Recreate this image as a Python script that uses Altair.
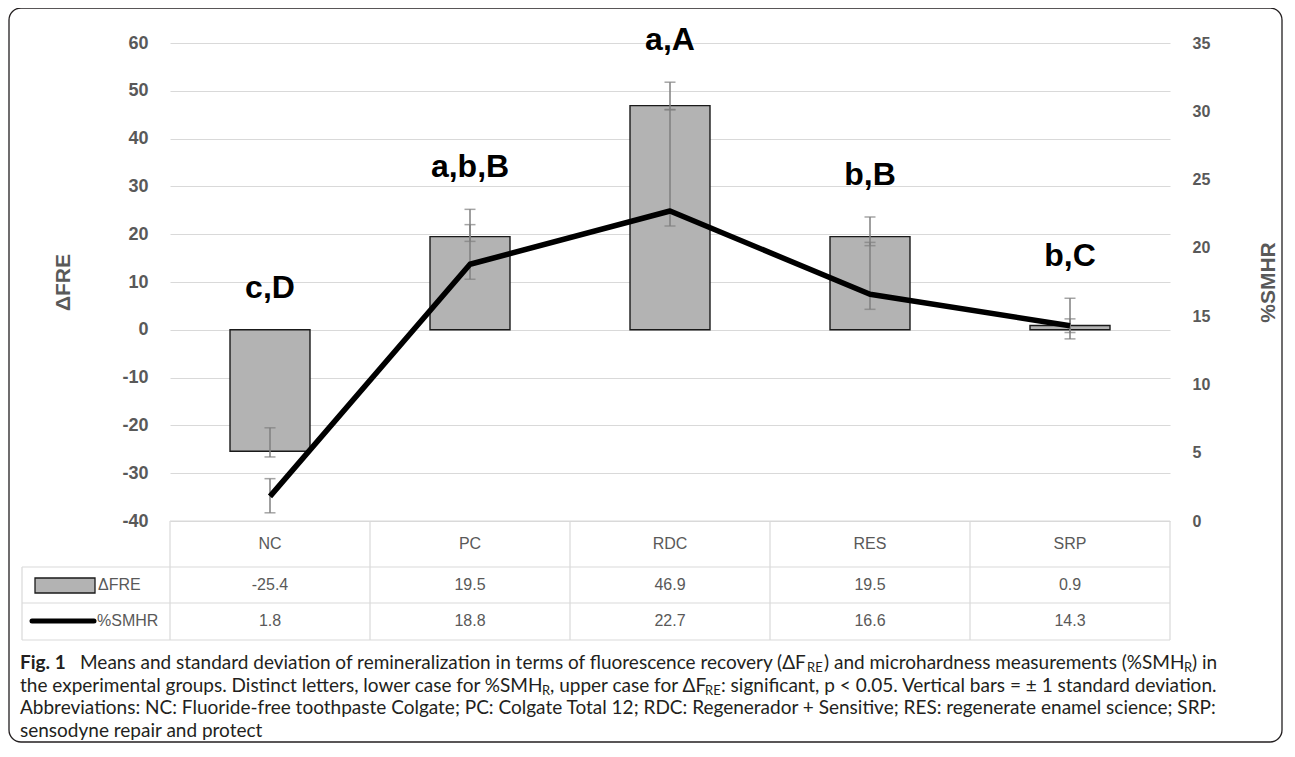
import altair as alt
import pandas as pd

# ---- data ----
groups = ["NC", "PC", "RDC", "RES", "SRP"]
dfre = [-25.4, 19.5, 46.9, 19.5, 0.9]
smhr = [1.8, 18.8, 22.7, 16.6, 14.3]
dfre_lo = [-26.6, 18.5, 46.1, 17.6, -1.9]
dfre_hi = [-20.5, 25.2, 51.8, 23.6, 6.6]
smhr_lo = [0.6, 17.7, 21.6, 15.5, 13.8]
smhr_hi = [3.1, 21.7, 30.1, 20.4, 14.8]
letters = ["c,D", "a,b,B", "a,A", "b,B", "b,C"]

left_ticks = [-40, -30, -20, -10, 0, 10, 20, 30, 40, 50, 60]
right_ticks = [0, 5, 10, 15, 20, 25, 30, 35]

df = pd.DataFrame({
    "group": groups, "dfre": dfre, "smhr": smhr,
    "dfre_lo": dfre_lo, "dfre_hi": dfre_hi,
    "smhr_lo": smhr_lo, "smhr_hi": smhr_hi, "letter": letters,
})
df["dfre_txt"] = [f"{v:.1f}" for v in dfre]
df["smhr_txt"] = [f"{v:.1f}" for v in smhr]

W, H = 1000, 478
GRAY_TXT = "#595959"
GRID = "#d9d9d9"
ERR = "#7f7f7f"
AXFONT = "Liberation Sans"

base = alt.Chart(df)
xenc = alt.X("group:N", sort=groups,
             scale=alt.Scale(domain=groups, paddingInner=0, paddingOuter=0),
             axis=None)

yl_scale = alt.Scale(domain=[-40, 60], nice=False)
yr_scale = alt.Scale(domain=[0, 35], nice=False)

left_axis = alt.Axis(orient="left", values=left_ticks, grid=True, gridColor=GRID,
                     gridWidth=1.2, domain=False, ticks=False, labelPadding=22,
                     labelExpr="'' + datum.value",
                     labelFont=AXFONT, labelFontSize=18, labelFontWeight="bold",
                     labelColor=GRAY_TXT, title="ΔFRE", titleFont=AXFONT,
                     titleFontSize=21, titleFontWeight="bold", titleColor=GRAY_TXT,
                     titleAngle=-90, titleX=-107, titleY=H / 2, titleAlign="center",
                     titleBaseline="middle")
right_axis = alt.Axis(orient="right", values=right_ticks, grid=False, domain=False,
                      ticks=False, labelPadding=22, labelFont=AXFONT, labelFontSize=16,
                      labelFontWeight="bold", labelColor=GRAY_TXT, title="%SMHR",
                      titleFont=AXFONT, titleFontSize=21, titleFontWeight="bold",
                      titleColor=GRAY_TXT, titleAngle=-90, titleX=98, titleY=H / 2,
                      titleAlign="center", titleBaseline="middle")

bars = base.mark_bar(color="#b3b3b3", stroke="#1a1a1a", strokeWidth=1.4,
                     width={"band": 0.4}).encode(
    x=xenc, y=alt.Y("dfre:Q", scale=yl_scale, axis=left_axis))
bar_err = base.mark_rule(color=ERR, strokeWidth=1.5).encode(
    x=xenc, y=alt.Y("dfre_lo:Q", scale=yl_scale), y2="dfre_hi:Q")
bar_cap_lo = base.mark_tick(color=ERR, thickness=1.5, size=11).encode(
    x=xenc, y=alt.Y("dfre_lo:Q", scale=yl_scale))
bar_cap_hi = base.mark_tick(color=ERR, thickness=1.5, size=11).encode(
    x=xenc, y=alt.Y("dfre_hi:Q", scale=yl_scale))
letter_txt = base.transform_calculate(
    ly="max(datum.dfre_hi, 0)"
).mark_text(font=AXFONT, fontSize=32, fontWeight="bold", color="black",
            baseline="alphabetic", dy=-32).encode(
    x=xenc, y=alt.Y("ly:Q", scale=yl_scale), text="letter:N")

left_layer = alt.layer(bars, bar_err, bar_cap_lo, bar_cap_hi, letter_txt)

line_err = base.mark_rule(color=ERR, strokeWidth=1.5).encode(
    x=xenc, y=alt.Y("smhr_lo:Q", scale=yr_scale), y2="smhr_hi:Q")
line_cap_lo = base.mark_tick(color=ERR, thickness=1.5, size=11).encode(
    x=xenc, y=alt.Y("smhr_lo:Q", scale=yr_scale))
line_cap_hi = base.mark_tick(color=ERR, thickness=1.5, size=11).encode(
    x=xenc, y=alt.Y("smhr_hi:Q", scale=yr_scale))
line = base.mark_line(color="black", strokeWidth=5.5, strokeJoin="round").encode(
    x=xenc, y=alt.Y("smhr:Q", scale=yr_scale, axis=right_axis))

right_layer = alt.layer(line_err, line_cap_lo, line_cap_hi, line)

# ---- data table under the plot ----
ROW_HEAD, ROW1, ROW2 = 501, 542, 578
TBL_FONT = "Liberation Sans"
head_txt = base.mark_text(font=TBL_FONT, fontSize=16, color=GRAY_TXT).encode(
    x=xenc, y=alt.value(ROW_HEAD), text="group:N")
row1_txt = base.mark_text(font=TBL_FONT, fontSize=16, color=GRAY_TXT).encode(
    x=xenc, y=alt.value(ROW1), text="dfre_txt:N")
row2_txt = base.mark_text(font=TBL_FONT, fontSize=16, color=GRAY_TXT).encode(
    x=xenc, y=alt.value(ROW2), text="smhr_txt:N")

one = alt.Chart(pd.DataFrame({"k": [0]}))
vsep = base.mark_rule(color=GRID, strokeWidth=1.2).encode(
    x=alt.X("group:N", sort=groups, bandPosition=0,
            scale=alt.Scale(domain=groups, paddingInner=0, paddingOuter=0), axis=None),
    y=alt.value(H), y2=alt.value(597))
tbl_rules = [
    one.mark_rule(color=GRID, strokeWidth=1.2).encode(x=alt.value(W), y=alt.value(H), y2=alt.value(597)),
    one.mark_rule(color=GRID, strokeWidth=1.2).encode(x=alt.value(-148), y=alt.value(524), y2=alt.value(597)),
    one.mark_rule(color=GRID, strokeWidth=1.2).encode(x=alt.value(0), x2=alt.value(W), y=alt.value(H)),
]
for yy in [524, 560, 597]:
    tbl_rules.append(one.mark_rule(color=GRID, strokeWidth=1.2).encode(
        x=alt.value(-148), x2=alt.value(W), y=alt.value(yy)))

key_bar = one.mark_rect(color="#b3b3b3", stroke="#1a1a1a", strokeWidth=1.3).encode(
    x=alt.value(-135), x2=alt.value(-75), y=alt.value(535), y2=alt.value(550))
key_line = one.mark_rule(color="black", strokeWidth=5, strokeCap="round").encode(
    x=alt.value(-138), x2=alt.value(-76), y=alt.value(ROW2))
key_t1 = one.mark_text(font=TBL_FONT, fontSize=16, color=GRAY_TXT, align="left").encode(
    x=alt.value(-72), y=alt.value(ROW1), text=alt.value("ΔFRE"))
key_t2 = one.mark_text(font=TBL_FONT, fontSize=16, color=GRAY_TXT, align="left").encode(
    x=alt.value(-73), y=alt.value(ROW2), text=alt.value("%SMHR"))

# ---- caption ----
CAP_FONT = "Lato"
CAP_SIZE = 19
CAP_COLOR = "#231f20"
X0 = -150
L1, L2, L3, L4 = 620, 643, 665, 688
caption_segments = [
    # (text, x, y, bold, subscript)
    ("Fig. 1", X0, L1, True, False),
    ("Means and standard deviation of remineralization in terms of fluorescence recovery (ΔF", -90, L1, False, False),
    ("RE", 637, L1, False, True),
    (") and microhardness measurements (%SMH", 654, L1, False, False),
    ("R", 1014, L1, False, True),
    (") in", 1022, L1, False, False),
    ("the experimental groups. Distinct letters, lower case for %SMH", X0, L2, False, False),
    ("R", 372, L2, False, True),
    (", upper case for ΔF", 380, L2, False, False),
    ("RE", 535, L2, False, True),
    (": significant, p < 0.05. Vertical bars = ± 1 standard deviation.", 551, L2, False, False),
    ("Abbreviations: NC: Fluoride-free toothpaste Colgate; PC: Colgate Total 12; RDC: Regenerador + Sensitive; RES: regenerate enamel science; SRP:", X0, L3, False, False),
    ("sensodyne repair and protect", X0, L4, False, False),
]
cap_layers = []
for text, xx, yy, bold, sub in caption_segments:
    cap_layers.append(one.mark_text(
        font=CAP_FONT, fontSize=13 if sub else CAP_SIZE,
        fontWeight="bold" if bold else "normal", color=CAP_COLOR,
        align="left", baseline="middle", dy=5 if sub else 0).encode(
        x=alt.value(xx), y=alt.value(yy), text=alt.value(text)))

border = one.mark_rect(fillOpacity=0, stroke="#231f20", strokeWidth=1.3, cornerRadius=12).encode(
    x=alt.value(-161), x2=alt.value(1112), y=alt.value(-35), y2=alt.value(699))

chart = alt.layer(
    left_layer, right_layer,
    head_txt, row1_txt, row2_txt, vsep, *tbl_rules,
    key_bar, key_line, key_t1, key_t2, *cap_layers, border,
).resolve_scale(y="independent").properties(
    width=W, height=H,
    autosize=alt.AutoSizeParams(type="none"),
    padding={"left": 162, "top": 35, "right": 113, "bottom": 222},
).configure_view(stroke=None)

chart.save("out.html", embed_options={"renderer": "svg", "actions": False})
